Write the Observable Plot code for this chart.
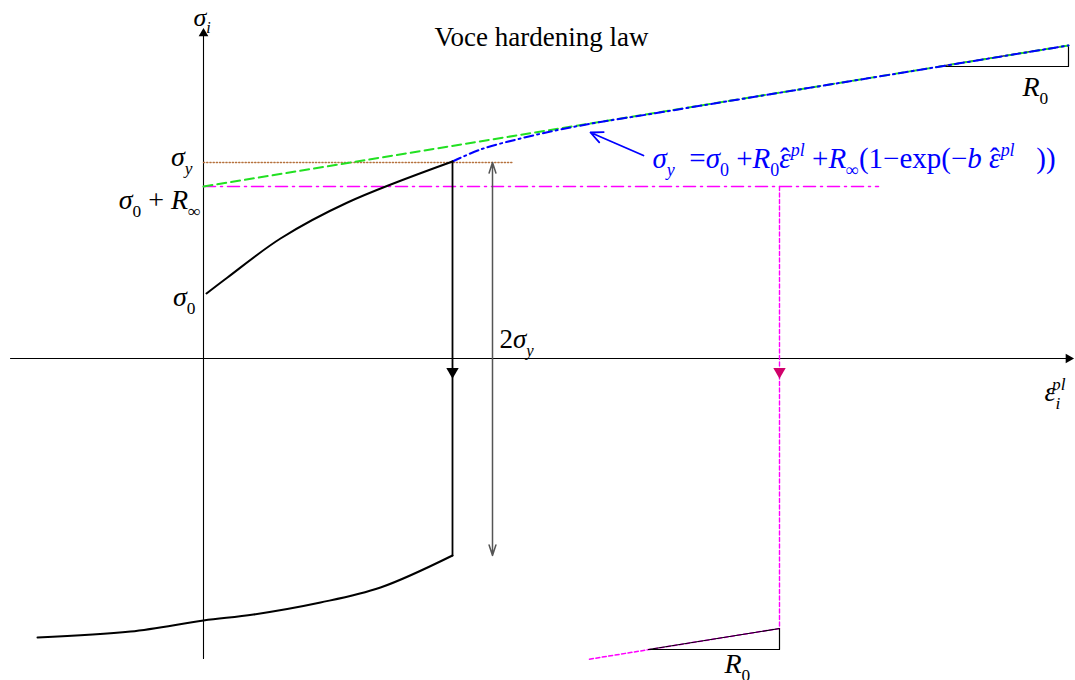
<!DOCTYPE html>
<html>
<head>
<meta charset="utf-8">
<script src="https://cdn.jsdelivr.net/npm/d3@7"></script>
<script src="https://cdn.jsdelivr.net/npm/@observablehq/plot@0.6"></script>
<style>
  html, body { margin: 0; padding: 0; background: #fff; }
  #chart svg { display: block; }
</style>
</head>
<body>
<div id="chart"></div>
<script>
// ---- Key levels (stress σ, plastic strain ε, arbitrary units) ----
const sigma0 = 0.65;          // initial yield stress
const sigmaY = 1.96;          // current yield stress
const satLevel = 1.72;        // σ0 + R∞
const epsYield = 2.49;        // strain at reversal
const epsReverse = 5.76;      // strain at second reversal

// ---- Series ----
const loadingCurve = [[0.03, 0.65], [0.24, 0.81], [0.77, 1.20], [1.44, 1.56], [2.49, 1.97]];
const unloadPath = [[2.49, 1.97], [2.49, -1.97]];
const reverseCurve = [[2.49, -1.97], [1.77, -2.29], [1.17, -2.44], [0.50, -2.56], [0.00, -2.62], [-0.73, -2.73], [-1.66, -2.79]];
const linearAsymptote = [[0.00, 1.72], [8.65, 3.13]];
const voceCurve = [[2.49, 1.97], [2.77, 2.09], [3.17, 2.20], [3.57, 2.29], [3.97, 2.365], [4.47, 2.445], [5.50, 2.615], [7.00, 2.86], [8.65, 3.13]];
const saturationLine = [[0.00, 1.72], [6.75, 1.72]];
const yieldLine = [[0.00, 1.96], [3.10, 1.96]];
const magentaDrop = [[5.76, 1.72], [5.76, -2.70]];
const magentaReverse = [[5.76, -2.70], [3.84, -3.01]];
const slopeTriTop = [[7.35, 2.92], [8.65, 3.13], [8.65, 2.92], [7.35, 2.92]];
const slopeTriBottom = [[4.45, -2.91], [5.76, -2.70], [5.76, -2.91], [4.45, -2.91]];
const axisH = [[-1.93, 0], [8.67, 0]];
const axisV = [[0, -3.00], [0, 3.27]];
const twoSigmaSpan = [2.89, 1.96, -1.97];   // x, top, bottom
const pointerArrow = [[4.40, 2.03], [3.87, 2.26]];

// ---- Text labels ----
const titleText = "Voce hardening law";
const equationText = "σ_{y}  ~{=}σ_{~0} ~{+}R_{~0}ε!{-0.37}~{ˆ}!{0.04}^{pl} ~{+}R_{∞}~{(1−exp(−}b ε!{-0.37}~{ˆ}!{0.04}^{pl}   ~{))}";
const leftLabels = ["σ_{y}", "σ_{~0} ~{+} R_{∞}", "σ_{~0}"];
const axisLabels = ["σ_{i}", "ε_{i}!{-0.3}^{pl}"];
const otherLabels = ["~{2}σ_{y}", "R_{~0}"];

const W = 1075, H = 680;
const serif = "'Liberation Serif', 'Times New Roman', serif";
const P = d => d[0], Q = d => d[1];
const [tsX, tsTop, tsBot] = twoSigmaSpan;
const tsMid = (tsTop + tsBot) / 2;

const chart = Plot.plot({
  width: W,
  height: H,
  margin: 0,
  x: {domain: [-2.03, 8.72], axis: null},
  y: {domain: [-3.22, 3.58], axis: null},
  style: {background: "#fff", fontFamily: serif},
  marks: [
    // axes
    Plot.line(axisH, {x: P, y: Q, stroke: "#000", strokeWidth: 1.1}),
    Plot.line(axisV, {x: P, y: Q, stroke: "#000", strokeWidth: 1.1}),
    Plot.dot([axisH[1]], {x: P, y: Q, symbol: "triangle", r: 3.6, fill: "#000", rotate: 90, dx: -2}),
    Plot.dot([axisV[1]], {x: P, y: Q, symbol: "triangle", r: 3.6, fill: "#000", dy: 2}),
    // reference levels
    Plot.line(yieldLine, {x: P, y: Q, stroke: "#b5713d", strokeWidth: 1.4, strokeDasharray: "1.2,2"}),
    Plot.line(saturationLine, {x: P, y: Q, stroke: "#ff00ff", strokeWidth: 1.5, strokeDasharray: "12,5,2,5"}),
    Plot.line(magentaDrop, {x: P, y: Q, stroke: "#ff00ff", strokeWidth: 1.4, strokeDasharray: "4,2.5"}),
    Plot.line(magentaReverse, {x: P, y: Q, stroke: "#ff00ff", strokeWidth: 1.5, strokeDasharray: "4,2.5"}),
    // slope triangles
    Plot.line(slopeTriTop, {x: P, y: Q, stroke: "#000", strokeWidth: 1.2}),
    Plot.line(slopeTriBottom, {x: P, y: Q, stroke: "#000", strokeWidth: 1.2}),
    // hardening curves
    Plot.line(linearAsymptote, {x: P, y: Q, stroke: "#22e022", strokeWidth: 2, strokeDasharray: "9,5"}),
    Plot.line(voceCurve, {x: P, y: Q, stroke: "#0000ff", strokeWidth: 2, strokeDasharray: "9,4,2,4", curve: "catmull-rom"}),
    // stress path
    Plot.line(loadingCurve, {x: P, y: Q, stroke: "#000", strokeWidth: 2, curve: "catmull-rom"}),
    Plot.line(unloadPath, {x: P, y: Q, stroke: "#000", strokeWidth: 1.8}),
    Plot.line(reverseCurve, {x: P, y: Q, stroke: "#000", strokeWidth: 2, curve: "catmull-rom"}),
    Plot.dot([[epsYield, -0.13]], {x: P, y: Q, symbol: "triangle", r: 4.6, fill: "#000", rotate: 180}),
    Plot.dot([[epsReverse, -0.13]], {x: P, y: Q, symbol: "triangle", r: 4.6, fill: "#d0006a", rotate: 180}),
    // 2σy double arrow (two arrows from the middle outwards)
    Plot.arrow([tsTop, tsBot], {x1: tsX, y1: tsMid, x2: tsX, y2: d => d,
      stroke: "#555", strokeWidth: 1.5, headLength: 11, headAngle: 36}),
    // pointer to Voce curve
    Plot.arrow([pointerArrow], {x1: d => d[0][0], y1: d => d[0][1], x2: d => d[1][0], y2: d => d[1][1],
      stroke: "#0000ff", strokeWidth: 1.8, headLength: 11, headAngle: 50}),
    // texts
    Plot.text([titleText], {x: 3.38, y: 3.21, text: d => d, fontSize: 27, fill: "#000"}),
    Plot.text([equationText], {x: 4.49, y: 2.00, text: d => d, fontSize: 29, fontStyle: "italic", fill: "#0000ff", textAnchor: "start"}),
    Plot.text([leftLabels[0]], {x: -0.11, y: sigmaY + 0.05, text: d => d, fontSize: 28, fontStyle: "italic", textAnchor: "end"}),
    Plot.text([leftLabels[1]], {x: -0.03, y: satLevel - 0.14, text: d => d, fontSize: 28, fontStyle: "italic", textAnchor: "end"}),
    Plot.text([leftLabels[2]], {x: -0.08, y: sigma0 - 0.04, text: d => d, fontSize: 28, fontStyle: "italic", textAnchor: "end"}),
    Plot.text([axisLabels[0]], {x: -0.10, y: 3.41, text: d => d, fontSize: 26, fontStyle: "italic", textAnchor: "start"}),
    Plot.text([axisLabels[1]], {x: 8.41, y: -0.34, text: d => d, fontSize: 28, fontStyle: "italic", textAnchor: "start"}),
    Plot.text([otherLabels[0]], {x: 2.96, y: 0.19, text: d => d, fontSize: 27, fontStyle: "italic", textAnchor: "start"}),
    Plot.text([otherLabels[1]], {x: 8.19, y: 2.71, text: d => d, fontSize: 28, fontStyle: "italic", textAnchor: "start"}),
    Plot.text([otherLabels[1]], {x: 5.21, y: -3.06, text: d => d, fontSize: 28, fontStyle: "italic", textAnchor: "start"})
  ]
});

// ---- Turn _{..} ^{..} ~{..} !{..} markup into tspans ----
function richify(svg) {
  d3.select(svg).selectAll("text").each(function () {
    const el = this;
    const s = el.textContent;
    if (!/[_^~!]\{/.test(s)) return;
    const g = el.closest("g[font-size]");
    const fs = g ? parseFloat(g.getAttribute("font-size")) : 24;
    el.textContent = "";
    el.setAttribute("style", "white-space:pre");
    const parts = s.split(/([_^~!]\{[^}]*\})/).filter(p => p.length);
    let cur = 0;   // current baseline offset (px)
    let pendingDx = 0;
    for (const p of parts) {
      let type = "n", txt = p;
      const m = p.match(/^([_^~!])\{([^}]*)\}$/);
      if (m) { type = m[1]; txt = m[2]; }
      if (type === "!") { pendingDx += parseFloat(txt) * fs; continue; }
      let target = 0, size = fs, upright = type === "~";
      if (type === "_") { target = 0.28 * fs; size = 0.62 * fs; }
      if (type === "^") { target = -0.42 * fs; size = 0.62 * fs; }
      if ((type === "_" || type === "^") && txt.startsWith("~")) { upright = true; txt = txt.slice(1); }
      const t = document.createElementNS("http://www.w3.org/2000/svg", "tspan");
      t.textContent = txt;
      t.setAttribute("dy", String(target - cur));
      if (pendingDx) { t.setAttribute("dx", String(pendingDx)); pendingDx = 0; }
      t.setAttribute("font-size", String(size));
      if (upright) t.setAttribute("font-style", "normal");
      el.appendChild(t);
      cur = target;
    }
  });
}
richify(chart);
document.getElementById("chart").appendChild(chart);
</script>
</body>
</html>
